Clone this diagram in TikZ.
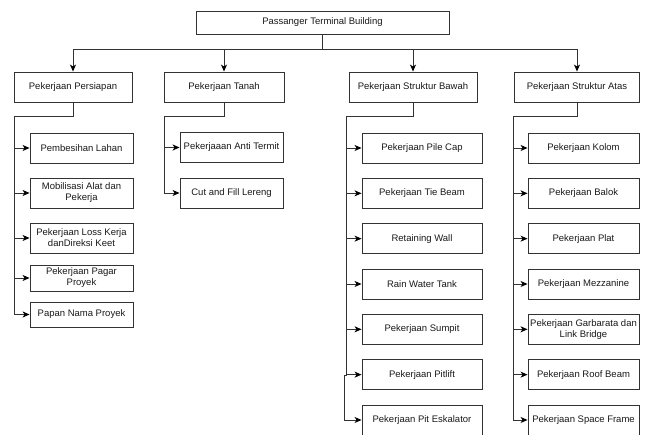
\documentclass[tikz,border=0pt]{standalone}
\usepackage{fontspec}
\setmainfont{Liberation Sans}
\usetikzlibrary{arrows.meta}
\tikzset{
    box/.style={draw=black!80,
        line width=0.9pt,
        rectangle,
        align=center,
        inner sep=1pt,
        minimum height=30pt,
        text=black!90,
        font=\fontsize{9.5}{11}\selectfont},
    link/.style={draw=black!80, line width=0.9pt,
        -{Stealth[length=7pt,width=6pt,inset=2pt,black]}}
}
\begin{document}
\begin{tikzpicture}[x=1pt,y=-1pt]
\useasboundingbox (0,0) rectangle (646,435);
\node[box, minimum width=253pt, minimum height=23pt] (root) at (322.5,22.5) {Passanger Terminal Building};
\coordinate (bus) at (322.5,49);
% first level
\node[box, minimum width=118pt] (pers) at (73,87) {Pekerjaan Persiapan};
\node[box, minimum width=120pt] (tanah) at (224,87) {Pekerjaan Tanah};
\node[box, minimum width=128pt] (bawah) at (413,87) {Pekerjaan Struktur Bawah};
\node[box, minimum width=125pt] (atas) at (577,87) {Pekerjaan Struktur Atas};
\foreach\n in{pers, tanah, bawah, atas}{
    \draw [link] (root.south) -- (bus) -| (\n.north);
}
\coordinate (persT) at (14,116);
\coordinate (tanahT) at (164,116);
\coordinate (bawahT) at (346,116);
\coordinate (atasT) at (513,116);
% persiapan
\foreach\t/\y/\h [count=\i] in{{Pembesihan Lahan}/148/30,
    {Mobilisasi Alat dan\\Pekerja}/193/30,
    {Pekerjaan Loss Kerja\\danDireksi Keet}/238/30,
    {Pekerjaan Pagar\\Proyek}/278/26,
    {Papan Nama Proyek}/314.5/25}{
    \node[box, minimum width=103pt, minimum height=\h pt] (P\i) at (81.5,\y) {\t};
    \draw [link] (pers.south) |- (persT) |- (P\i.west);
}
% tanah
\foreach\t/\y [count=\i] in{{Pekerjaaan Anti Termit}/147.5, {Cut and Fill Lereng}/193}{
    \node[box, minimum width=103pt] (T\i) at (231.5,\y) {\t};
    \draw [link] (tanah.south) |- (tanahT) |- (T\i.west);
}
% struktur bawah
\foreach\t [count=\i] in{Pekerjaan Pile Cap, Pekerjaan Tie Beam, Retaining Wall,
    Rain Water Tank, Pekerjaan Sumpit, Pekerjaan Pitlift, Pekerjaan Pit Eskalator}{
    \node[box, minimum width=120pt] (B\i) at (422, {148+45.33*(\i-1)}) {\t};
}
\foreach\i in{1, ..., 6}{
    \draw [link] (bawah.south) |- (bawahT) |- (B\i.west);
}
\coordinate (bawahJ) at (344.8,375);
\draw [link] (bawah.south) |- (bawahT) -- (bawahT |- bawahJ) -- (bawahJ) |- (B7.west);
% struktur atas
\foreach\t [count=\i] in{Pekerjaan Kolom, Pekerjaan Balok, Pekerjaan Plat,
    Pekerjaan Mezzanine, {Pekerjaan Garbarata dan\\Link Bridge},
    Pekerjaan Roof Beam, Pekerjaan Space Frame}{
    \node[box, minimum width=111pt] (A\i) at (583.5, {148+45.33*(\i-1)}) {\t};
    \draw [link] (atas.south) |- (atasT) |- (A\i.west);
}
\end{tikzpicture}
\end{document}
